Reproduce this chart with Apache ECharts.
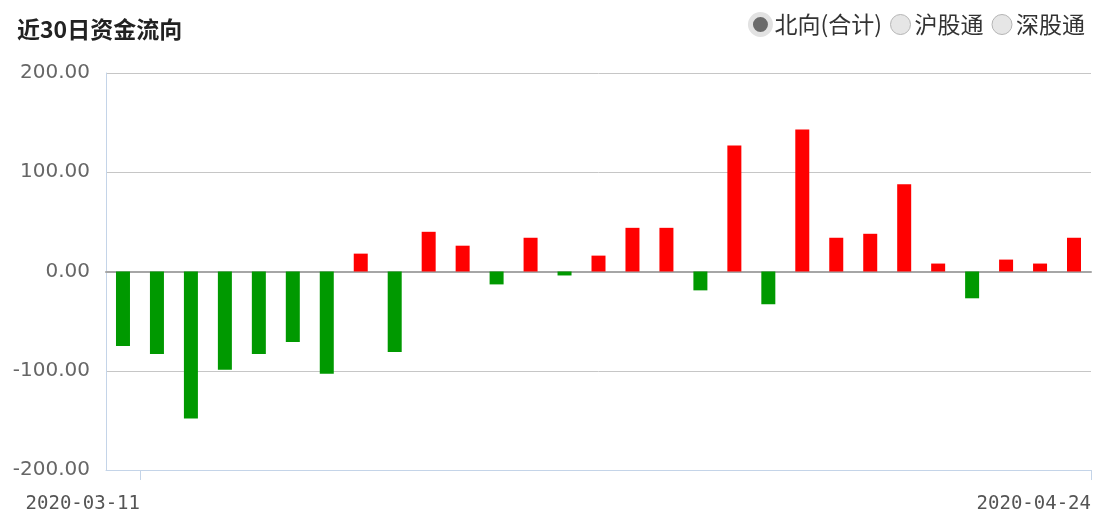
<!DOCTYPE html>
<html>
<head>
<meta charset="utf-8">
<title>近30日资金流向</title>
<script src="https://cdn.jsdelivr.net/npm/echarts@6/dist/echarts.min.js"></script>
<style>
  html, body { margin: 0; padding: 0; background: #fff; }
  #flow-chart { width: 1094px; height: 511px; }
</style>
</head>
<body>
<div id="flow-chart"></div>
<script>
// trading days shown on the chart
const dates = [
  '2020-03-11', '2020-03-12', '2020-03-13', '2020-03-16', '2020-03-17', '2020-03-18',
  '2020-03-19', '2020-03-20', '2020-03-23', '2020-03-24', '2020-03-25', '2020-03-26',
  '2020-03-27', '2020-03-30', '2020-03-31', '2020-04-01', '2020-04-02', '2020-04-03',
  '2020-04-07', '2020-04-08', '2020-04-14', '2020-04-15', '2020-04-16', '2020-04-17',
  '2020-04-20', '2020-04-21', '2020-04-22', '2020-04-23', '2020-04-24'
]
// net inflow (亿元)
const northFlow = [
  -75, -83, -148, -99, -83, -71, -103, 18, -81, 40,
  26, -13, 34, -4, 16, 44, 44, -19, 127, -33,
  143, 34, 38, 88, 8, -27, 12, 8, 34
]
const seriesNames = ['北向(合计)', '沪股通', '深股通']
const yTicks = [-200, -100, 0, 100, 200]
// first and last date shown under the axis (band boundary index)
const dateTicks = [1, dates.length]

const myChart = echarts.init(document.getElementById('flow-chart'))
myChart.setOption({
  animation: false,
  title: {
    text: '近30日资金流向',
    left: 12,
    top: 13,
    textStyle: {
      fontFamily: '"Noto Sans CJK SC"',
      fontSize: 23,
      fontWeight: 'bold',
      color: '#222'
    }
  },
  legend: {
    right: 4,
    top: 7,
    icon: 'circle',
    itemWidth: 20,
    itemHeight: 20,
    itemGap: 8,
    selectedMode: false,
    textStyle: {
      fontFamily: '"Noto Sans CJK SC"',
      fontSize: 23,
      color: '#333',
      padding: [0, 0, 0, -1]
    },
    data: [{
      name: seriesNames[0],
      itemStyle: { color: '#6a6a6a', borderColor: '#e2e2e2', borderWidth: 5 }
    }, {
      name: seriesNames[1],
      itemStyle: { color: '#e6e6e6', borderColor: '#b4b4b4', borderWidth: 1 }
    }, {
      name: seriesNames[2],
      itemStyle: { color: '#e6e6e6', borderColor: '#b4b4b4', borderWidth: 1 }
    }]
  },
  grid: {
    left: 106,
    right: 3,
    top: 73,
    bottom: 41,
    outerBoundsMode: 'none'
  },
  xAxis: [{
    type: 'category',
    data: dates,
    boundaryGap: true,
    axisLine: { onZero: true, lineStyle: { color: '#a6a6a6', width: 2 } },
    axisTick: { show: false },
    axisLabel: { show: false },
    splitLine: { show: false }
  }, {
    // only used to place the two date labels on band edges
    type: 'value',
    position: 'bottom',
    min: 0,
    max: dates.length,
    axisLine: { onZero: false, lineStyle: { color: '#c4d4e8', width: 1 } },
    axisTick: {
      customValues: dateTicks,
      length: 10,
      lineStyle: { color: '#c4d4e8' }
    },
    axisLabel: {
      customValues: dateTicks,
      formatter: v => dates[v - 1],
      align: 'right',
      margin: 25,
      fontFamily: '"DejaVu Sans Mono"',
      fontSize: 19,
      color: '#555'
    },
    splitLine: { show: false }
  }],
  yAxis: {
    type: 'value',
    min: yTicks[0],
    max: yTicks[yTicks.length - 1],
    interval: 100,
    axisLine: { show: true, lineStyle: { color: '#c4d4e8' } },
    axisTick: { show: false },
    axisLabel: {
      formatter: v => v.toFixed(2),
      margin: 16,
      lineHeight: 26,
      verticalAlign: 'middle',
      padding: [6, 0, 0, 0],
      fontFamily: '"DejaVu Sans"',
      fontSize: 20,
      color: '#666'
    },
    splitLine: { lineStyle: { color: '#c6c6c6', width: 1 } }
  },
  series: [{
    name: seriesNames[0],
    type: 'bar',
    xAxisIndex: 0,
    barWidth: 14,
    data: northFlow,
    itemStyle: {
      color: p => (p.value >= 0 ? '#ff0000' : '#009900')
    }
  }, {
    name: seriesNames[1],
    type: 'line',
    xAxisIndex: 0,
    data: []
  }, {
    name: seriesNames[2],
    type: 'line',
    xAxisIndex: 0,
    data: []
  }]
})
window.addEventListener('resize', () => { myChart.resize() })
</script>
</body>
</html>
